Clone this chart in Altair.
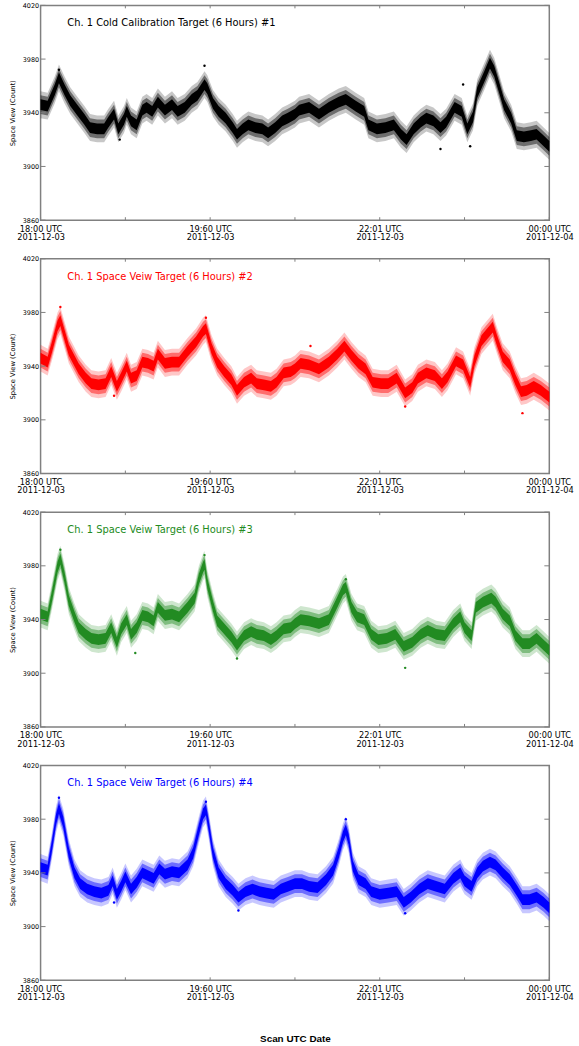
import altair as alt
import pandas as pd

# ---- axis / label data ----
X_TICKS_MAJOR = [0, 120, 240, 360]          # minutes after 18:00 UTC
X_LABEL_TIME = ["18:00 UTC", "19:60 UTC", "22:01 UTC", "00:00 UTC"]
X_LABEL_DATE = ["2011-12-03", "2011-12-03", "2011-12-03", "2011-12-04"]
X_TICKS_ALL = [0, 60, 120, 180, 240, 300, 360]
Y_TICKS = [3860, 3900, 3940, 3980, 4020]

TITLES = [
    "Ch. 1 Cold Calibration Target (6 Hours)  #1",
    "Ch. 1 Space Veiw Target (6 Hours) #2",
    "Ch. 1 Space Veiw Target (6 Hours) #3",
    "Ch. 1 Space Veiw Target (6 Hours) #4",
]
COLORS = ["#000000", "#ff0000", "#228b22", "#0000ff"]

# ---- series: centre of the scatter cloud (minutes, counts) ----
t1 = [0, 5, 10, 13, 17, 21, 26, 31, 35, 40, 45, 48, 52, 55, 59, 61, 64, 68, 72, 75, 79, 83, 88, 93, 97, 102,
      107, 111, 116, 118, 122, 126, 131, 136, 139, 143, 147, 152, 157, 161, 166, 171, 175, 180, 183, 190, 197,
      204, 211, 216, 223, 229, 232, 238, 244, 250, 255, 259, 264, 269, 273, 278, 283, 287, 293, 298, 302, 306,
      309, 314, 318, 321, 325, 328, 333, 337, 342, 347, 351, 356, 360]
v1 = [3946, 3945, 3957, 3966, 3957, 3949, 3942, 3935, 3929, 3928, 3928, 3933, 3939, 3928, 3935, 3941, 3934, 3931,
      3942, 3944, 3941, 3948, 3942, 3946, 3941, 3944, 3950, 3953, 3961, 3958, 3947, 3941, 3936, 3929, 3924, 3928,
      3931, 3929, 3928, 3925, 3929, 3934, 3936, 3939, 3942, 3944, 3939, 3944, 3948, 3950, 3945, 3941, 3931, 3928,
      3929, 3931, 3924, 3920, 3928, 3933, 3936, 3934, 3929, 3933, 3944, 3941, 3928, 3937, 3955, 3967, 3977, 3971,
      3957, 3946, 3936, 3923, 3922, 3923, 3924, 3919, 3915]

t2 = [0, 5, 8, 12, 14, 17, 20, 24, 27, 32, 36, 41, 46, 50, 54, 57, 61, 64, 68, 72, 76, 80, 83, 88, 93, 98, 104,
      110, 115, 117, 121, 125, 130, 135, 139, 144, 149, 153, 158, 163, 167, 172, 177, 180, 184, 190, 197, 204,
      210, 215, 220, 225, 230, 235, 241, 246, 252, 258, 263, 267, 273, 279, 284, 288, 294, 299, 304, 307, 312,
      316, 320, 323, 327, 332, 336, 340, 344, 349, 354, 360]
v2 = [3946, 3943, 3954, 3970, 3974, 3963, 3952, 3944, 3938, 3931, 3927, 3926, 3927, 3936, 3925, 3931, 3940, 3931,
      3933, 3943, 3942, 3940, 3949, 3942, 3943, 3943, 3951, 3958, 3966, 3968, 3953, 3943, 3936, 3930, 3922, 3928,
      3931, 3927, 3926, 3925, 3928, 3935, 3936, 3938, 3942, 3941, 3938, 3943, 3949, 3955, 3948, 3942, 3938, 3928,
      3927, 3927, 3931, 3920, 3924, 3931, 3935, 3933, 3927, 3932, 3944, 3941, 3928, 3944, 3959, 3964, 3969, 3959,
      3947, 3941, 3930, 3921, 3922, 3925, 3922, 3917]

t3 = [0, 5, 8, 12, 14, 17, 20, 24, 27, 32, 36, 41, 46, 50, 54, 57, 61, 64, 68, 72, 76, 80, 83, 88, 93, 98, 104,
      109, 112, 115, 116, 118, 122, 125, 130, 135, 139, 144, 149, 153, 158, 163, 167, 172, 177, 180, 184, 190,
      197, 204, 210, 214, 216, 220, 224, 229, 234, 239, 245, 251, 257, 263, 269, 274, 280, 286, 292, 297, 300,
      305, 308, 313, 319, 322, 327, 332, 336, 341, 346, 351, 356, 360]
v3 = [3944, 3942, 3957, 3979, 3985, 3971, 3954, 3942, 3934, 3929, 3926, 3925, 3926, 3934, 3923, 3933, 3940, 3929,
      3934, 3943, 3942, 3939, 3949, 3943, 3944, 3942, 3949, 3956, 3970, 3979, 3981, 3967, 3950, 3939, 3933, 3927,
      3921, 3928, 3931, 3929, 3928, 3925, 3928, 3933, 3934, 3937, 3940, 3939, 3937, 3940, 3953, 3962, 3964, 3949,
      3942, 3940, 3929, 3925, 3926, 3929, 3920, 3923, 3929, 3932, 3929, 3928, 3937, 3942, 3934, 3928, 3949, 3953,
      3956, 3953, 3944, 3939, 3928, 3922, 3922, 3926, 3921, 3917]

t4 = [0, 5, 8, 11, 13, 16, 20, 24, 28, 33, 38, 43, 48, 51, 54, 57, 60, 64, 68, 72, 76, 80, 84, 88, 93, 98, 104,
      108, 112, 115, 117, 119, 122, 126, 131, 136, 140, 145, 150, 155, 160, 165, 170, 175, 180, 185, 190, 196,
      202, 207, 211, 214, 216, 218, 221, 225, 230, 234, 240, 246, 252, 257, 262, 268, 274, 280, 286, 292, 297,
      300, 305, 309, 313, 318, 322, 327, 332, 337, 341, 346, 351, 356, 360]
v4 = [3944, 3942, 3960, 3980, 3988, 3978, 3955, 3940, 3932, 3928, 3926, 3925, 3927, 3934, 3924, 3930, 3937, 3928,
      3933, 3940, 3938, 3936, 3943, 3939, 3941, 3940, 3946, 3955, 3972, 3984, 3987, 3975, 3955, 3940, 3932, 3927,
      3922, 3926, 3928, 3926, 3925, 3924, 3928, 3930, 3932, 3932, 3930, 3929, 3935, 3942, 3955, 3967, 3972, 3965,
      3945, 3935, 3932, 3926, 3924, 3925, 3926, 3918, 3922, 3928, 3932, 3930, 3928, 3936, 3940, 3934, 3930, 3940,
      3945, 3948, 3946, 3940, 3935, 3927, 3920, 3920, 3922, 3918, 3914]

# isolated outlying samples (minutes, counts)
o_t = [[13, 116, 299, 283, 304, 56],
       [14, 117, 191, 341, 52, 258],
       [14, 116, 216, 258, 67, 139],
       [13, 117, 216, 258, 140, 52]]
o_v = [[3972, 3975, 3961, 3913, 3915, 3920],
       [3984, 3976, 3955, 3905, 3918, 3910],
       [3992, 3988, 3970, 3904, 3915, 3911],
       [3996, 3993, 3980, 3910, 3912, 3918]]

SERIES_T = [t1, t2, t3, t4]
SERIES_V = [v1, v2, v3, v4]
# spread of the cloud around its centre (counts) and density of each layer
SPREADS = [10, 7, 4]
OPAC = [0.22, 0.45, 1.0]

W, H = 514, 217
FONT = "DejaVu Sans"
FRAME = "#808080"

label_expr = ""
for val, a, b in zip(X_TICKS_MAJOR, X_LABEL_TIME, X_LABEL_DATE):
    label_expr += f"datum.value == {val} ? ['{a}', '{b}'] : "
label_expr += "''"

x_scale = alt.Scale(domain=[0, 360], nice=False, zero=False)
y_scale = alt.Scale(domain=[3860, 4020], nice=False, zero=False)


def make_panel(i, last):
    c = COLORS[i]
    df = pd.DataFrame({"t": SERIES_T[i], "v": SERIES_V[i]})
    for k, s in enumerate(SPREADS):
        df[f"lo{k}"] = df["v"] - s
        df[f"hi{k}"] = df["v"] + s

    x_axis_kw = dict(values=X_TICKS_MAJOR, labelExpr=label_expr, tickSize=0, domain=False, grid=False,
                     labelFont=FONT, labelFontSize=8.3, labelColor="#000000", labelPadding=4,
                     labelFlush=False, labelOverlap=False, labelLineHeight=8.5, labelBound=False)
    if last:
        x_axis = alt.Axis(title="Scan UTC Date", titleFont="Liberation Sans", titleFontSize=10,
                          titleFontWeight="bold", titleColor="#000000", titlePadding=33, **x_axis_kw)
    else:
        x_axis = alt.Axis(title=None, **x_axis_kw)
    y_axis = alt.Axis(values=Y_TICKS, format="d", tickSize=0, domain=False, grid=False, labelFont=FONT,
                      labelFontSize=6.5, labelColor="#000000", labelPadding=2,
                      title="Space View (Count)", titleFont=FONT, titleFontSize=6.8,
                      titleFontWeight="normal", titleColor="#000000", titlePadding=7)

    X = lambda f: alt.X(f, scale=x_scale, axis=x_axis)
    Y = lambda f: alt.Y(f, scale=y_scale, axis=y_axis)

    layers = []
    for k, op in enumerate(OPAC):
        layers.append(
            alt.Chart(df).mark_area(color=c, opacity=op).encode(
                x=X("t:Q"), y=Y(f"lo{k}:Q"), y2=f"hi{k}:Q",
            )
        )
    odf = pd.DataFrame({"t": o_t[i], "v": o_v[i]})
    layers.append(
        alt.Chart(odf).mark_point(filled=True, size=6, color=c, opacity=1).encode(
            x=X("t:Q"), y=Y("v:Q"),
        )
    )
    ydf = pd.DataFrame({"v": Y_TICKS})
    xdf = pd.DataFrame({"t": X_TICKS_ALL})
    for xa, xb in [(0, 5), (W - 5, W)]:
        layers.append(
            alt.Chart(ydf).mark_rule(color=FRAME, strokeWidth=1).encode(
                y=Y("v:Q"), x=alt.value(xa), x2=alt.value(xb)
            )
        )
    for ya, yb in [(H - 3, H), (0, 3)]:
        layers.append(
            alt.Chart(xdf).mark_rule(color=FRAME, strokeWidth=1).encode(
                x=X("t:Q"), y=alt.value(ya), y2=alt.value(yb)
            )
        )
    tdf = pd.DataFrame({"label": [TITLES[i]]})
    layers.append(
        alt.Chart(tdf).mark_text(align="left", baseline="middle", font=FONT, fontSize=10, color=c).encode(
            x=alt.value(27), y=alt.value(18), text="label:N"
        )
    )
    return alt.layer(*layers).properties(width=W, height=H)


panels = [make_panel(i, i == 3) for i in range(4)]
chart = (
    alt.vconcat(*panels, spacing=13)
    .properties(padding={"left": 8, "top": -4, "right": 5, "bottom": 0}, background="#ffffff")
    .configure_view(stroke=FRAME, strokeWidth=1.5)
)
chart.save("out.html", embed_options={"renderer": "svg", "actions": False})
